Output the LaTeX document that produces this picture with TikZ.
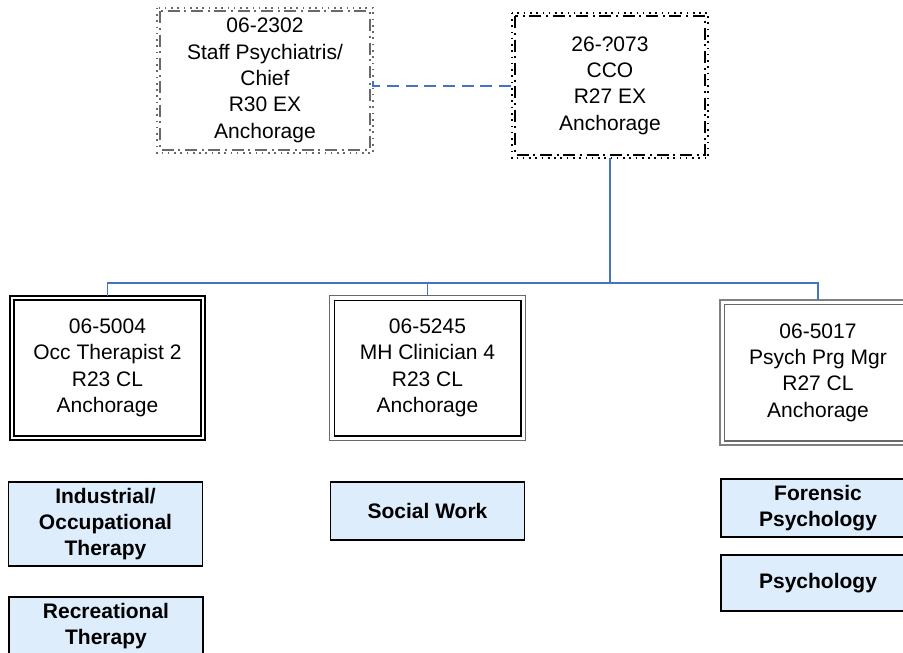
\documentclass[tikz,border=0pt]{standalone}
\usepackage{fontspec}
\setmainfont{Liberation Sans}
\definecolor{conn}{RGB}{68,114,196}
\definecolor{lblue}{RGB}{222,237,252}
\definecolor{dgray}{RGB}{105,105,105}
\definecolor{mgray}{RGB}{128,128,128}
\begin{document}
\begin{tikzpicture}[x=0.75pt,y=-0.75pt,
  box/.style={inner sep=0pt, align=center, font=\fontsize{15.75}{19.75}\selectfont},
  posbox/.style={box, minimum width=146.25pt, minimum height=108pt},
  unitbox/.style={box, draw=black, line width=0.8pt, fill=lblue, minimum width=145.5pt,
     font=\fontsize{15.75}{19.5}\selectfont\bfseries},
  dotline/.style={line width=1.3pt, dash pattern=on 1.2pt off 3.5pt},
  dashline/.style={line width=1.5pt, dash pattern=on 9pt off 3.5pt on 1.5pt off 3.5pt},
  conline/.style={draw=conn, line width=1.2pt},
  dashconn/.style={draw=conn, line width=1.5pt, dash pattern=on 9pt off 5pt}
]
\path[use as bounding box, clip] (0,0) rectangle (903,653);

% top boxes
\node[box, minimum width=162pt, minimum height=108.75pt] (psy) at (265,80.5)
  {06-2302\\Staff Psychiatris/\\Chief\\R30 EX\\Anchorage};
\draw[dotline, dgray] (psy.north west) rectangle (psy.south east);
\draw[dashline, dgray] ([shift={(3.5,3.5)}]psy.north west) rectangle ([shift={(-3.5,-3.5)}]psy.south east);

\node[box, minimum width=147pt, minimum height=108.75pt] (cco) at (610,85.5)
  {26-?073\\CCO\\R27 EX\\Anchorage};
\draw[dotline, black] (cco.north west) rectangle (cco.south east);
\draw[dashline, black] ([shift={(3.5,3.5)}]cco.north west) rectangle ([shift={(-3.5,-3.5)}]cco.south east);

% position boxes
\node[posbox] (occ) at (107.5,368) {06-5004\\Occ Therapist 2\\R23 CL\\Anchorage};
\draw[black, line width=1.5pt] (occ.north west) rectangle (occ.south east);
\draw[black, line width=1.5pt] ([shift={(4.5,4.5)}]occ.north west) rectangle ([shift={(-4.5,-4.5)}]occ.south east);

\node[posbox] (mhc) at (427.5,368) {06-5245\\MH Clinician 4\\R23 CL\\Anchorage};
\draw[dgray, line width=1.1pt] (mhc.north west) rectangle (mhc.south east);
\draw[black, line width=1.1pt] ([shift={(4.5,4.5)}]mhc.north west) rectangle ([shift={(-4.5,-4.5)}]mhc.south east);

\node[posbox, minimum width=147pt, minimum height=108.75pt] (ppm) at (818,372.5) {06-5017\\Psych Prg Mgr\\R27 CL\\Anchorage};
\draw[mgray, line width=1.5pt] (ppm.north west) rectangle (ppm.south east);
\draw[dgray, line width=1.1pt] ([shift={(4.5,4.5)}]ppm.north west) rectangle ([shift={(-4.5,-4.5)}]ppm.south east);

% unit boxes
\node[unitbox, minimum height=63pt] (ind) at (105.5,524) {Industrial/\\Occupational\\Therapy};
\node[unitbox, minimum height=43.5pt] (rec) at (106,626) {Recreational\\Therapy};
\node[unitbox, minimum height=43.5pt] (sw) at (427.5,511) {Social Work};
\node[unitbox, minimum height=43.5pt] (for) at (818,508) {Forensic\\Psychology};
\node[unitbox, minimum height=42pt] (psc) at (818,583) {Psychology};

% connectors
\draw[dashconn] (psy.east) |- (cco.west);
\coordinate (bus) at (cco.south |- 0,283);
\draw[conline] (cco.south) -- (bus);
\draw[conline] (bus) -| (occ.north);
\draw[conline] (bus) -| (mhc.north);
\draw[conline] (bus) -| (ppm.north);
\end{tikzpicture}
\end{document}
